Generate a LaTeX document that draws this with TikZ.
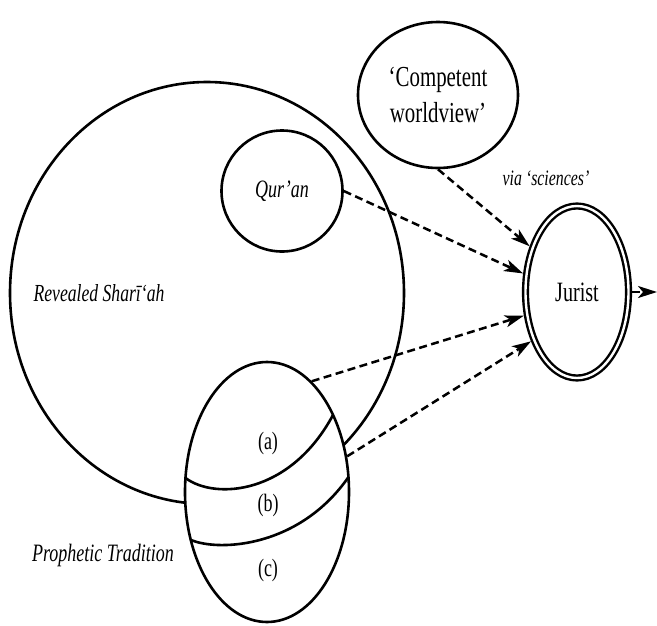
\documentclass[tikz,border=0pt]{standalone}
\usepackage{fontspec}
\setmainfont{Liberation Serif}[FakeStretch=0.72]
\usepackage{tikz}
\usetikzlibrary{shapes.geometric, arrows.meta, positioning}

\begin{document}
\begin{tikzpicture}[x=1pt, y=-1pt,
  region/.style={draw, line width=2.6pt, ellipse, inner sep=0pt},
  plainlabel/.style={font=\fontsize{28}{36}\selectfont},
  itlabel/.style={font=\fontsize{25}{30}\selectfont\itshape},
  flow/.style={line width=2.5pt, dash pattern=on 8pt off 4.5pt, -{Stealth[length=19pt, width=12pt, inset=5pt]}}]
  \useasboundingbox (0,0) rectangle (657,625);
  % Sources
  \node[region, minimum width=394, minimum height=422] (sharia) at (207,293) {};
  \node[region, circle, minimum size=121, itlabel] (quran) at (282,191) {Qur’an};
  \node[region, fill=white, minimum width=164, minimum height=260] (trad) at (267,492) {};
  \draw[line width=2.6pt] (185.5,478) .. controls (215,500) and (290,495) .. (333,415);
  \draw[line width=2.6pt] (191,540) .. controls (220,552) and (300,547) .. (348.5,477);
  \node[plainlabel, font=\fontsize{25}{30}\selectfont] (parta) at (268,443) {(a)};
  \node[plainlabel, font=\fontsize{25}{30}\selectfont] (partb) at (268,505) {(b)};
  \node[plainlabel, font=\fontsize{25}{30}\selectfont] (partc) at (268,570) {(c)};
  \node[itlabel, font=\fontsize{24.5}{30}\selectfont\itshape] (sharialabel) at (99,293) {Revealed Sharī‘ah};
  \node[itlabel] (tradlabel) at (103,555) {Prophetic Tradition};
  % Worldview and jurist
  \node[region, minimum width=160, minimum height=146, align=center, font=\fontsize{29}{36}\selectfont] (world) at (438,95) {‘Competent\\worldview’};
  \node[region, double, line width=2.4pt, double distance=2.4pt, minimum width=103, minimum height=172, outer sep=3.6pt, plainlabel] (jurist) at (577,292) {Jurist};
  \node[itlabel, font=\fontsize{22}{26}\selectfont\itshape] (via) at (546,178) {via ‘sciences’};
  \coordinate (exit) at (657,292);
  % Arrows
  \draw[flow] (world.south) -- (jurist.136);
  \draw[flow] (quran.east) -- (jurist.161);
  \draw[flow] (trad.68) -- (jurist.204);
  \draw[flow] (trad.24) -- (jurist.227);
  \draw[flow] (jurist.east) -- (exit);
\end{tikzpicture}
\end{document}
